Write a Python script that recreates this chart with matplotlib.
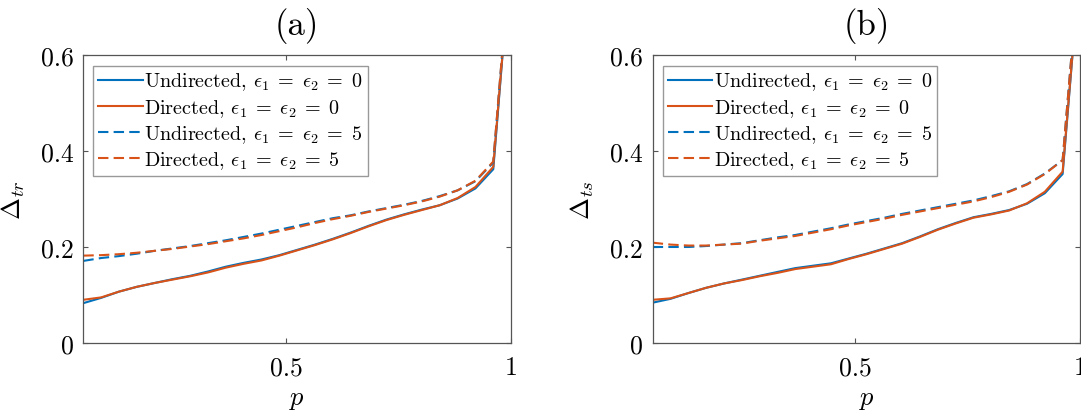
import matplotlib
matplotlib.use("Agg")
import matplotlib.pyplot as plt

plt.rcParams['font.family'] = ['cmr10', 'DejaVu Serif']
plt.rcParams['mathtext.fontset'] = 'cm'
plt.rcParams['axes.formatter.use_mathtext'] = True

# ---- data ----
p = [0.0496, 0.0892, 0.1288, 0.1684, 0.208, 0.2476, 0.2872, 0.3268, 0.3664,
     0.406, 0.4456, 0.4852, 0.5248, 0.5644, 0.604, 0.6436, 0.6832, 0.7228,
     0.7624, 0.802, 0.8416, 0.8812, 0.9208, 0.9604, 1.0]

# panel (a): Delta_tr
a_und0 = [0.083, 0.094, 0.107, 0.117, 0.125, 0.133, 0.140, 0.149, 0.159, 0.167,
          0.174, 0.183, 0.194, 0.205, 0.217, 0.230, 0.244, 0.257, 0.268, 0.278,
          0.287, 0.301, 0.322, 0.362, 0.82]
a_dir0 = [0.090, 0.095, 0.107, 0.117, 0.125, 0.132, 0.139, 0.147, 0.157, 0.165,
          0.172, 0.182, 0.193, 0.204, 0.216, 0.229, 0.243, 0.256, 0.267, 0.277,
          0.287, 0.302, 0.325, 0.367, 0.82]
a_und5 = [0.171, 0.177, 0.181, 0.186, 0.192, 0.197, 0.202, 0.208, 0.214, 0.221,
          0.228, 0.236, 0.244, 0.252, 0.260, 0.266, 0.274, 0.281, 0.288, 0.296,
          0.306, 0.318, 0.337, 0.376, 0.83]
a_dir5 = [0.182, 0.183, 0.185, 0.188, 0.192, 0.196, 0.201, 0.206, 0.212, 0.218,
          0.225, 0.233, 0.241, 0.250, 0.258, 0.265, 0.273, 0.280, 0.287, 0.295,
          0.305, 0.318, 0.338, 0.378, 0.83]

# panel (b): Delta_ts
b_und0 = [0.084, 0.092, 0.104, 0.115, 0.124, 0.132, 0.140, 0.148, 0.156, 0.161,
          0.166, 0.176, 0.186, 0.197, 0.208, 0.222, 0.237, 0.250, 0.262, 0.269,
          0.277, 0.290, 0.312, 0.352, 0.80]
b_dir0 = [0.090, 0.093, 0.104, 0.115, 0.124, 0.131, 0.139, 0.146, 0.154, 0.159,
          0.164, 0.175, 0.185, 0.196, 0.207, 0.221, 0.236, 0.249, 0.261, 0.268,
          0.276, 0.291, 0.315, 0.357, 0.80]
b_und5 = [0.200, 0.200, 0.200, 0.202, 0.205, 0.208, 0.214, 0.220, 0.225, 0.232,
          0.239, 0.247, 0.254, 0.261, 0.269, 0.276, 0.283, 0.290, 0.297, 0.306,
          0.316, 0.331, 0.353, 0.381, 0.82]
b_dir5 = [0.209, 0.205, 0.203, 0.203, 0.205, 0.207, 0.213, 0.218, 0.223, 0.230,
          0.237, 0.245, 0.252, 0.259, 0.267, 0.274, 0.281, 0.288, 0.295, 0.304,
          0.315, 0.330, 0.352, 0.381, 0.82]

labels = [r'Undirected, $\epsilon_1\;=\;\epsilon_2\;=\;0$',
          r'Directed, $\epsilon_1\;=\;\epsilon_2\;=\;0$',
          r'Undirected, $\epsilon_1\;=\;\epsilon_2\;=\;5$',
          r'Directed, $\epsilon_1\;=\;\epsilon_2\;=\;5$']
titles = ['(a)', '(b)']
ylabels = [r'$\Delta_{tr}$', r'$\Delta_{ts}$']
yticks = [0, 0.2, 0.4, 0.6]
yticklabels = ['0', '0.2', '0.4', '0.6']
xticks = [0.5, 1]
xticklabels = ['0.5', '1']

BLUE = '#0072BD'
ORANGE = '#D95319'
SPINE = '#555555'

fig = plt.figure(figsize=(10.81, 4.14), dpi=100)
positions = [[0.0771, 0.1691, 0.3957, 0.6957], [0.6038, 0.1691, 0.3957, 0.6957]]
panels = [(a_und0, a_dir0, a_und5, a_dir5), (b_und0, b_dir0, b_und5, b_dir5)]

for i in range(2):
    ax = fig.add_axes(positions[i])
    u0, d0, u5, d5 = panels[i]
    ax.plot(p, u0, color=BLUE, lw=1.5, label=labels[0])
    ax.plot(p, d0, color=ORANGE, lw=1.5, label=labels[1])
    ax.plot(p, u5, color=BLUE, lw=1.5, ls=(0, (5, 2.5)), label=labels[2])
    ax.plot(p, d5, color=ORANGE, lw=1.5, ls=(0, (5, 2.5)), label=labels[3])
    ax.set_xlim(0.0496, 1)
    ax.set_ylim(0, 0.6)
    ax.set_xticks(xticks)
    ax.set_xticklabels(xticklabels)
    ax.set_yticks(yticks)
    ax.set_yticklabels(yticklabels)
    ax.tick_params(direction='in', length=3.5, width=0.8, color=SPINE,
                   top=True, right=True, labelsize=18.5, pad=7)
    ax.tick_params(axis='x', pad=9)
    for s in ax.spines.values():
        s.set_color(SPINE)
        s.set_linewidth(0.9)
    ax.set_title(titles[i], fontsize=25, pad=15)
    ax.set_xlabel(r'$p$', fontsize=19, labelpad=6)
    ax.set_ylabel(ylabels[i], fontsize=19, labelpad=10)
    leg = ax.legend(loc='upper left', bbox_to_anchor=(0.0234, 0.963),
                    fontsize=14.5, frameon=True, fancybox=False, framealpha=1,
                    handlelength=2.2, handletextpad=0.08, borderpad=0.25,
                    labelspacing=0.22, borderaxespad=0)
    leg.get_frame().set_edgecolor('#999999')
    leg.get_frame().set_linewidth(1.0)

fig.savefig('out.png', dpi=100)
